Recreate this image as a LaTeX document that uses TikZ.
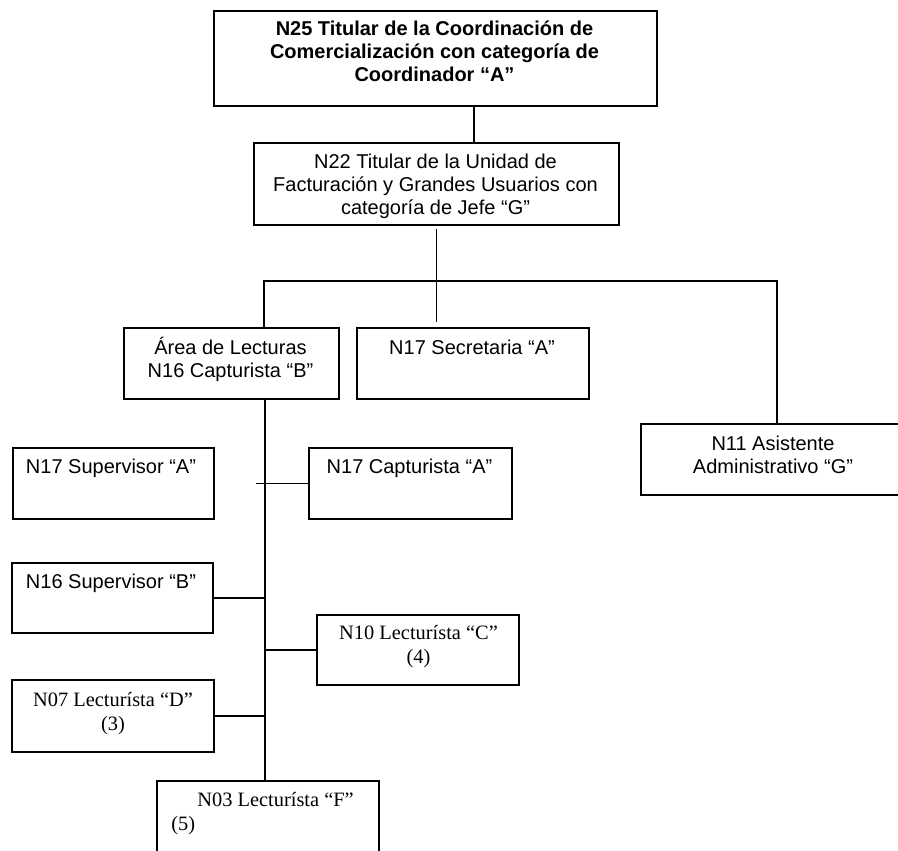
\documentclass[tikz,border=0pt]{standalone}
\usepackage{fontspec}
\setmainfont{Liberation Sans}
\newfontfamily\lecfont{Liberation Serif}
\usepackage{tikz}

\begin{document}
\begin{tikzpicture}[x=0.5pt, y=-0.5pt,
        box/.style={draw, line width=0.8pt, anchor=north west, inner sep=0pt},
        txt/.style={anchor=base, align=center, inner sep=0pt, font=\fontsize{10}{11.5}\selectfont},
        lec/.style={anchor=base, align=center, inner sep=0pt, font=\lecfont\fontsize{10.2}{12}\selectfont},
        link/.style={line width=0.8pt}]
        % Fix the page
        \useasboundingbox (0,0) rectangle (898,850);
        \clip (0,0) rectangle (898,850);

        % Draw the boxes
        \node[box, minimum width=221.5pt, minimum height=47.5pt] (n25) at (213,10) {};
        \node[box, minimum width=182.5pt, minimum height=41pt] (n22) at (253,142) {};
        \node[box, minimum width=107.5pt, minimum height=35.5pt] (area) at (123,327) {};
        \node[box, minimum width=116pt, minimum height=35.5pt] (sec17) at (356,327) {};
        \node[box, minimum width=133pt, minimum height=35.5pt] (asis11) at (640,423) {};
        \node[box, minimum width=100.5pt, minimum height=35.5pt] (sup17) at (12,447) {};
        \node[box, minimum width=101.5pt, minimum height=35.5pt] (cap17) at (308,447) {};
        \node[box, minimum width=100.5pt, minimum height=35pt] (sup16) at (11,562) {};
        \node[box, minimum width=101pt, minimum height=35pt] (lec10) at (316,614) {};
        \node[box, minimum width=101pt, minimum height=36pt] (lec07) at (11,679) {};
        \node[box, minimum width=111pt, minimum height=50pt] (lec03) at (156,780) {};

        % Write the texts (placed at the baseline of their last line)
        \node[txt, font=\bfseries\fontsize{10}{11.5}\selectfont] (n25t) at (434.5,82) {N25 Titular de la Coordinación de\\Comercialización con categoría de\\Coordinador “A”};
        \node[txt] (n22t) at (435.5,214) {N22 Titular de la Unidad de\\Facturación y Grandes Usuarios con\\categoría de Jefe “G”};
        \node[txt] (areat) at (230.5,377) {Área de Lecturas\\N16 Capturista “B”};
        \node[txt] (sec17t) at (472,354) {N17 Secretaria “A”};
        \node[txt] (asis11t) at (773,473) {N11 Asistente\\Administrativo “G”};
        \node[txt] (sup17t) at (111,473) {N17 Supervisor “A”};
        \node[txt] (cap17t) at (409.5,473) {N17 Capturista “A”};
        \node[txt] (sup16t) at (111,588) {N16 Supervisor “B”};
        \node[lec] (lec10t) at (418.5,663) {N10 Lecturísta “C”\\(4)};
        \node[lec] (lec07t) at (113,730) {N07 Lecturísta “D”\\(3)};
        \node[lec, anchor=base west, align=left] (lec03t) at (171,830) {\hspace{13pt}N03 Lecturísta “F”\\(5)};

        % Draw the connectors
        \coordinate (split) at (437,281);
        \coordinate (spine) at ([xshift=16.75pt]area.south);
        \draw[link] ([xshift=19.25pt]n25.south) -- ([xshift=19.25pt]n25.south |- n22.north);
        \draw[link] ([yshift=-1.5pt]n22.south) -- ([yshift=2.5pt]n22.south |- sec17.north);
        \draw[link] ([xshift=16.25pt]area.north) |- (split) -| ([xshift=1.5pt]asis11.north);
        \draw[link] (spine) -- (spine |- lec03.north);
        \draw[link] (cap17.west) -- ++(-52,0);
        \draw[link] (sup16.east) -- (sup16.east -| spine);
        \draw[link] (lec10.west) -- (lec10.west -| spine);
        \draw[link] (lec07.east) -- (lec07.east -| spine);
    \end{tikzpicture}
\end{document}
